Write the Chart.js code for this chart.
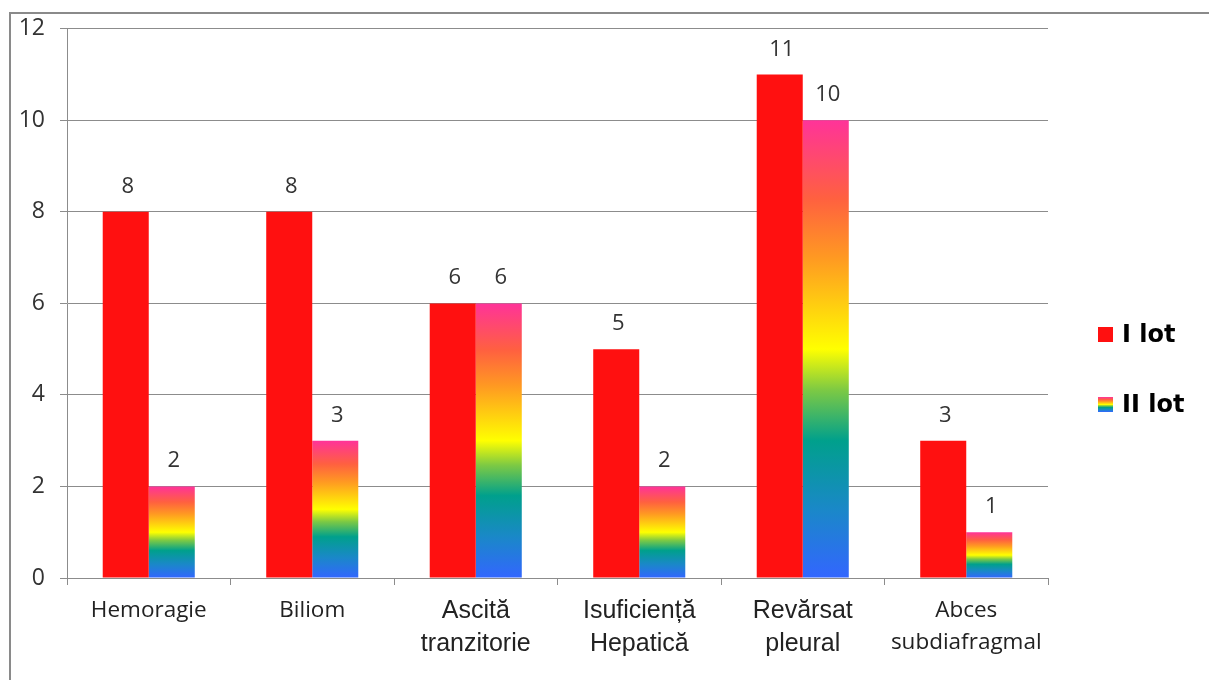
<!DOCTYPE html>
<html>
<head>
<meta charset="utf-8">
<script src="https://cdn.jsdelivr.net/npm/chart.js@4/dist/chart.umd.min.js"></script>
<style>
    html, body { margin: 0; padding: 0; background: #fff; overflow: hidden; }
    #frame {
        position: absolute; left: 9px; top: 12px; width: 1300px; height: 800px;
        border-top: 2px solid #8a8a8a; border-left: 2px solid #8a8a8a;
    }
    #wrap { position: absolute; left: 0; top: 0; width: 1209px; height: 680px; }
</style>
</head>
<body>
<div id="frame"></div>
<div id="wrap"><canvas id="chart" width="1209" height="680"></canvas></div>
<script>
const categories = [
    "Hemoragie",
    "Biliom",
    ["Ascită", "tranzitorie"],
    ["Isuficiență", "Hepatică"],
    ["Revărsat", "pleural"],
    ["Abces", "subdiafragmal"]
];
const lot1 = [8, 8, 6, 5, 11, 3];
const lot2 = [2, 3, 6, 2, 10, 1];
const seriesNames = ["I lot", "II lot"];
const yTicks = [0, 2, 4, 6, 8, 10, 12];

// which labels look like Arial in the original, the rest are Calibri-like
const arialLabels = [2, 3, 4];

const RED = "#ff1010";
const rainbowStops = [
    [0, "#3366ff"],
    [0.15, "#1a88c8"],
    [0.3, "#00a08c"],
    [0.41, "#7cc944"],
    [0.5, "#ffff00"],
    [0.7, "#ff9922"],
    [0.83, "#ff6040"],
    [1, "#ff3399"]
];

function rainbow(context) {
    const chart = context.chart;
    if (!chart.chartArea || context.parsed == null) return "#ffcc00";
    const y = chart.scales.y;
    const top = y.getPixelForValue(context.parsed.y);
    const bottom = y.getPixelForValue(0);
    const g = chart.ctx.createLinearGradient(0, bottom, 0, top);
    rainbowStops.forEach(s => g.addColorStop(s[0], s[1]));
    return g;
}

const valueLabels = {
    id: "valueLabels",
    afterDatasetsDraw(chart) {
        const ctx = chart.ctx;
        ctx.save();
        ctx.font = "22px 'Open Sans'";
        ctx.fillStyle = "#333";
        ctx.textAlign = "center";
        ctx.textBaseline = "alphabetic";
        chart.data.datasets.forEach((ds, i) => {
            chart.getDatasetMeta(i).data.forEach((el, j) => {
                ctx.fillText(String(ds.data[j]), el.x + 2, el.y - 19);
            });
        });
        ctx.restore();
    }
};

const sideLegend = {
    id: "sideLegend",
    afterDraw(chart) {
        const ctx = chart.ctx;
        const x = chart.chartArea.right + 50;
        const ys = [335, 405];
        ctx.save();
        ctx.font = "bold 24px 'DejaVu Sans'";
        ctx.textBaseline = "middle";
        seriesNames.forEach((name, i) => {
            const by = ys[i] - 8;
            if (i === 0) {
                ctx.fillStyle = RED;
            } else {
                const g = ctx.createLinearGradient(0, by + 15, 0, by);
                rainbowStops.forEach(s => g.addColorStop(s[0], s[1]));
                ctx.fillStyle = g;
            }
            ctx.fillRect(x, by, 15, 15);
            ctx.fillStyle = "#000";
            ctx.fillText(name, x + 24, ys[i] + 1);
        });
        ctx.restore();
    }
};

new Chart(document.getElementById("chart"), {
    type: "bar",
    data: {
        labels: categories,
        datasets: [
            { label: seriesNames[0], data: lot1, backgroundColor: RED },
            { label: seriesNames[1], data: lot2, backgroundColor: rainbow }
        ]
    },
    options: {
        responsive: false,
        animation: false,
        events: [],
        layout: { padding: { top: 28, right: 161, left: 0, bottom: 0 } },
        datasets: { bar: { categoryPercentage: 0.563, barPercentage: 1 } },
        plugins: {
            legend: { display: false },
            tooltip: { enabled: false }
        },
        scales: {
            x: {
                afterFit(s) { s.height = 102; },
                grid: { drawOnChartArea: false, drawTicks: true, tickLength: 7, color: "#8c8c8c", offset: true },
                border: { color: "#8c8c8c", width: 1 },
                ticks: {
                    color: "#222",
                    padding: 10,
                    maxRotation: 0,
                    autoSkip: false,
                    font(ctx) {
                        if (arialLabels.includes(ctx.index)) {
                            return { family: "'Liberation Sans', Arial", size: 25, lineHeight: 1.3 };
                        }
                        return { family: "'Open Sans'", size: 22.5, lineHeight: 1.4 };
                    }
                }
            },
            y: {
                min: yTicks[0],
                max: yTicks[yTicks.length - 1],
                afterFit(s) { s.width = 67; },
                afterBuildTicks(s) { s.ticks = yTicks.map(v => ({ value: v })); },
                grid: { color: "#8c8c8c", tickLength: 7, lineWidth: 1 },
                border: { color: "#8c8c8c", width: 1 },
                ticks: {
                    color: "#333",
                    padding: 15,
                    font: { family: "'Open Sans'", size: 23 }
                }
            }
        }
    },
    plugins: [valueLabels, sideLegend]
});
</script>
</body>
</html>
